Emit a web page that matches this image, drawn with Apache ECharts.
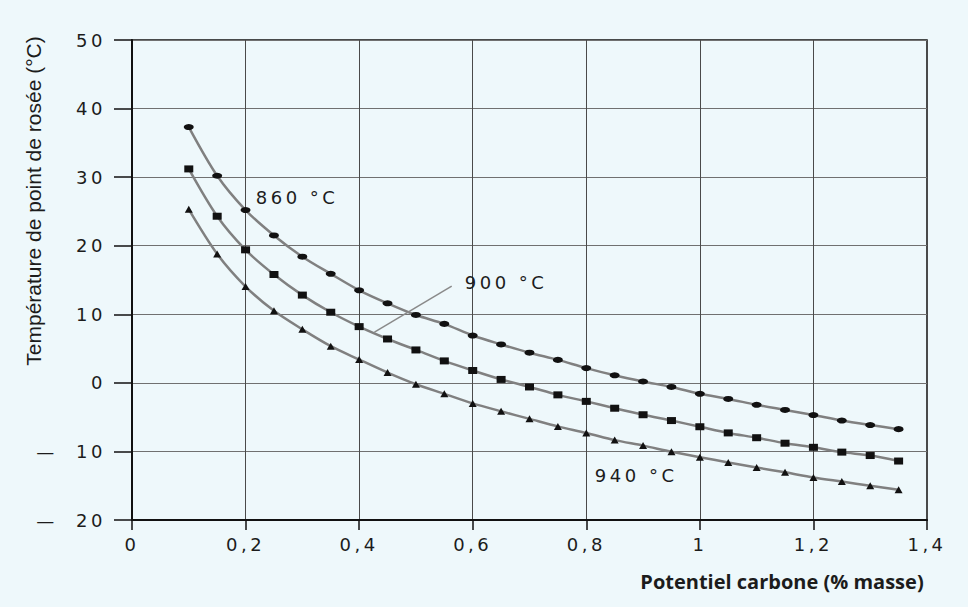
<!DOCTYPE html>
<html>
<head>
<meta charset="utf-8">
<script src="https://cdn.jsdelivr.net/npm/echarts@6/dist/echarts.min.js"></script>
<style>
html, body { margin: 0; padding: 0; background: #eef8fb; }
#chart { width: 968px; height: 607px; }
#chart text[style*="DejaVu"], #chart text[font-family*="DejaVu"] { letter-spacing: 3.5px; }
</style>
</head>
<body>
<div id="chart"></div>
<script>
// Carbon potential (% mass) at each marker
const carbon = [0.1, 0.15, 0.2, 0.25, 0.3, 0.35, 0.4, 0.45, 0.5, 0.55, 0.6, 0.65, 0.7,
                0.75, 0.8, 0.85, 0.9, 0.95, 1.0, 1.05, 1.1, 1.15, 1.2, 1.25, 1.3, 1.35];
// Dew point temperature (°C)
const dew860 = [37.3, 30.2, 25.2, 21.5, 18.4, 15.9, 13.5, 11.6, 9.9, 8.6, 6.9, 5.6, 4.4,
                3.35, 2.15, 1.1, 0.2, -0.6, -1.6, -2.35, -3.2, -3.95, -4.7, -5.5, -6.15, -6.75];
const dew900 = [31.2, 24.3, 19.4, 15.8, 12.8, 10.3, 8.2, 6.4, 4.8, 3.2, 1.8, 0.5, -0.6,
                -1.75, -2.7, -3.7, -4.65, -5.5, -6.4, -7.3, -8.0, -8.8, -9.4, -10.1, -10.6, -11.4];
const dew940 = [25.3, 18.8, 14.05, 10.5, 7.8, 5.35, 3.4, 1.5, -0.2, -1.6, -3.0, -4.15, -5.25,
                -6.35, -7.3, -8.35, -9.15, -10.05, -10.85, -11.6, -12.35, -13.05, -13.8, -14.4, -15.0, -15.6];

const xTickLabels = ['0', '0,2', '0,4', '0,6', '0,8', '1', '1,2', '1,4'];
const yTickLabels = ['—\u00a0\u00a010'.replace('10', '20'), '—\u00a0\u00a010', '0', '10', '20', '30', '40', '50'];

const seriesNames = ['860 °C', '900 °C', '940 °C'];
// annotation anchors (data coordinates, left-middle of the text)
const labelAnchors = [[0.218, 27.1], [0.586, 14.7], [0.815, -13.5]];
// leader line of the 900 °C label (data coordinates)
const leader900 = [[0.563, 14.1], [0.427, 7.4]];

const xTitle = 'Potentiel carbone (% masse)';
const yTitle = 'Température de point de rosée (°C)';

const tickFont = 'DejaVu Sans';
const ink = '#1c1c1c';

function pairs(ys) { return carbon.map((x, i) => [x, ys[i]]); }

function annotation(i) {
  return {
    silent: true,
    symbol: 'circle',
    symbolSize: 0,
    itemStyle: { color: 'rgba(0,0,0,0)' },
    label: {
      show: true, position: 'right', distance: 0,
      formatter: seriesNames[i],
      color: ink, fontFamily: tickFont, fontSize: 18,
      align: 'left', verticalAlign: 'middle'
    },
    data: [{ coord: labelAnchors[i] }]
  };
}

const markers = [
  { symbol: 'circle', size: [10, 6] },
  { symbol: 'rect', size: [9, 7] },
  { symbol: 'triangle', size: [8, 7] }
];
const dataSets = [dew860, dew900, dew940];

const series = dataSets.map((d, i) => {
  const s = {
    name: seriesNames[i],
    type: 'line',
    data: pairs(d),
    smooth: 0.3,
    symbol: markers[i].symbol,
    symbolSize: markers[i].size,
    showAllSymbol: true,
    itemStyle: { color: '#111111' },
    lineStyle: { color: '#808080', width: 2.5 },
    markPoint: annotation(i),
    z: 3
  };
  if (i === 1) {
    s.markLine = {
      silent: true,
      symbol: ['none', 'none'],
      label: { show: false },
      lineStyle: { color: '#8a8a8a', width: 1.5, type: 'solid' },
      data: [[{ coord: leader900[0] }, { coord: leader900[1] }]]
    };
  }
  return s;
});

const chart = echarts.init(document.getElementById('chart'), null, { renderer: 'svg' });
chart.setOption({
  animation: false,
  backgroundColor: '#eef8fb',
  grid: {
    left: 132, right: 41, top: 40, bottom: 87,
    show: true, borderColor: '#111', borderWidth: 1.5, backgroundColor: 'transparent'
  },
  xAxis: {
    type: 'value', min: 0, max: 1.4, interval: 0.2,
    axisLine: { show: true, onZero: false, lineStyle: { color: '#111', width: 2 } },
    axisTick: { show: true, inside: false, length: 10, lineStyle: { color: '#111', width: 1.5 } },
    splitLine: { show: true, lineStyle: { color: '#4a4a4a', width: 1 } },
    axisLabel: {
      margin: 15, color: ink, fontFamily: tickFont, fontSize: 18,
      formatter: v => xTickLabels[Math.round(v / 0.2)]
    }
  },
  yAxis: {
    type: 'value', min: -20, max: 50, interval: 10,
    axisLine: { show: true, onZero: false, lineStyle: { color: '#111', width: 2 } },
    axisTick: { show: true, inside: false, length: 18, lineStyle: { color: '#111', width: 1.5 } },
    splitLine: { show: true, lineStyle: { color: '#707070', width: 1 } },
    axisLabel: {
      margin: 26, color: ink, fontFamily: tickFont, fontSize: 18,
      formatter: v => yTickLabels[Math.round((v + 20) / 10)]
    }
  },
  graphic: [
    {
      type: 'text', x: 33, y: 201, rotation: Math.PI / 2,
      style: {
        text: yTitle, align: 'center', verticalAlign: 'middle',
        fill: ink, fontFamily: "'Liberation Sans Narrow', 'Liberation Sans', sans-serif",
        fontSize: 21
      }
    },
    {
      type: 'text', x: 782, y: 581,
      style: {
        text: xTitle, align: 'center', verticalAlign: 'middle',
        fill: ink, fontFamily: "'Open Sans', sans-serif", fontWeight: 'bold', fontSize: 20
      }
    }
  ],
  series: series
});
</script>
</body>
</html>
